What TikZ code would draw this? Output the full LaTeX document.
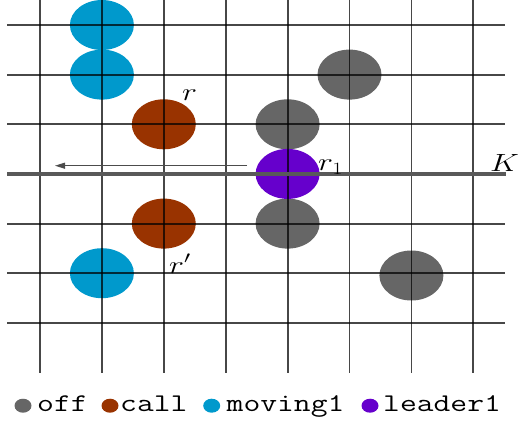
\documentclass[tikz,border=0pt]{standalone}
\usetikzlibrary{arrows.meta,shapes.geometric}
\definecolor{offc}{HTML}{666666}
\definecolor{callc}{HTML}{993300}
\definecolor{movc}{HTML}{0099CC}
\definecolor{leadc}{HTML}{6600CC}
\tikzset{
  robot/.style={ellipse, minimum width=64pt, minimum height=50pt, inner sep=0pt, fill=#1},
  gridline/.style={draw=black, opacity=0.72, line width=1.8pt},
  kline/.style={draw=black!65, line width=3.2pt},
  legdot/.style={ellipse, minimum width=17pt, minimum height=14pt, inner sep=0pt, fill=#1},
  legtext/.style={anchor=base west, inner sep=0pt, font=\fontsize{25.5}{26}\selectfont\ttfamily},
  mlabel/.style={anchor=base west, inner sep=0pt, font=\fontsize{27}{28}\selectfont},
}
\newcommand{\hs}[1]{\scalebox{1.28}[1]{#1}}
\begin{document}
\begin{tikzpicture}[x=1pt,y=-1pt]
\useasboundingbox (0,0) rectangle (518,423);
% robots
\node[robot=movc] (m1) at (101.9,25) {};
\node[robot=movc] (m2) at (101.9,74.6) {};
\node[robot=movc] (m3) at (101.9,273.2) {};
\node[robot=callc] (c1) at (163.8,124.3) {};
\node[robot=callc] (c2) at (163.8,223.6) {};
\node[robot=offc] (o1) at (349.5,74.6) {};
\node[robot=offc] (o2) at (287.6,124.3) {};
\node[robot=offc] (o3) at (287.6,223.6) {};
\node[robot=offc] (o4) at (411.4,275.5) {};
\node[robot=leadc] (l1) at (287.6,173.9) {};
% grid
\foreach \j in {0,1,2,4,5,6} {
  \draw[gridline] (7,{25+49.65*\j}) -- (505,{25+49.65*\j});
}
\foreach \i in {0,...,7} {
  \draw[gridline] ({40+61.9*\i},0) -- ({40+61.9*\i},373);
}
\coordinate (kw) at (7,173.9);
\coordinate (ke) at (506,173.9);
\draw[kline] (kw) -- (ke);
% arrow
\coordinate (as) at (247,165.7);
\coordinate (ae) at (55,165.7);
\draw[draw=black!70, line width=1pt, -{Triangle[length=10pt,width=6pt]}] (as) -- (ae);
% labels
\node[mlabel] (lr) at (182,100) {\hs{$r$}};
\node[mlabel] (lr1) at (318,170.5) {\hs{$r_1$}};
\node[mlabel] (lK) at (490,171) {\hs{$K$}};
\node[mlabel] (lrp) at (169,273) {\hs{$r'$}};
% legend
\node[legdot=offc] (d1) at (23,405.7) {};
\node[legtext] (t1) at (37,411.7) {\hs{off}};
\node[legdot=callc] (d2) at (110,405.7) {};
\node[legtext] (t2) at (120,411.7) {\hs{call}};
\node[legdot=movc] (d3) at (211.7,405.7) {};
\node[legtext] (t3) at (226.5,411.7) {\hs{moving1}};
\node[legdot=leadc] (d4) at (370,405.7) {};
\node[legtext] (t4) at (383,411.7) {\hs{leader1}};
\end{tikzpicture}
\end{document}
